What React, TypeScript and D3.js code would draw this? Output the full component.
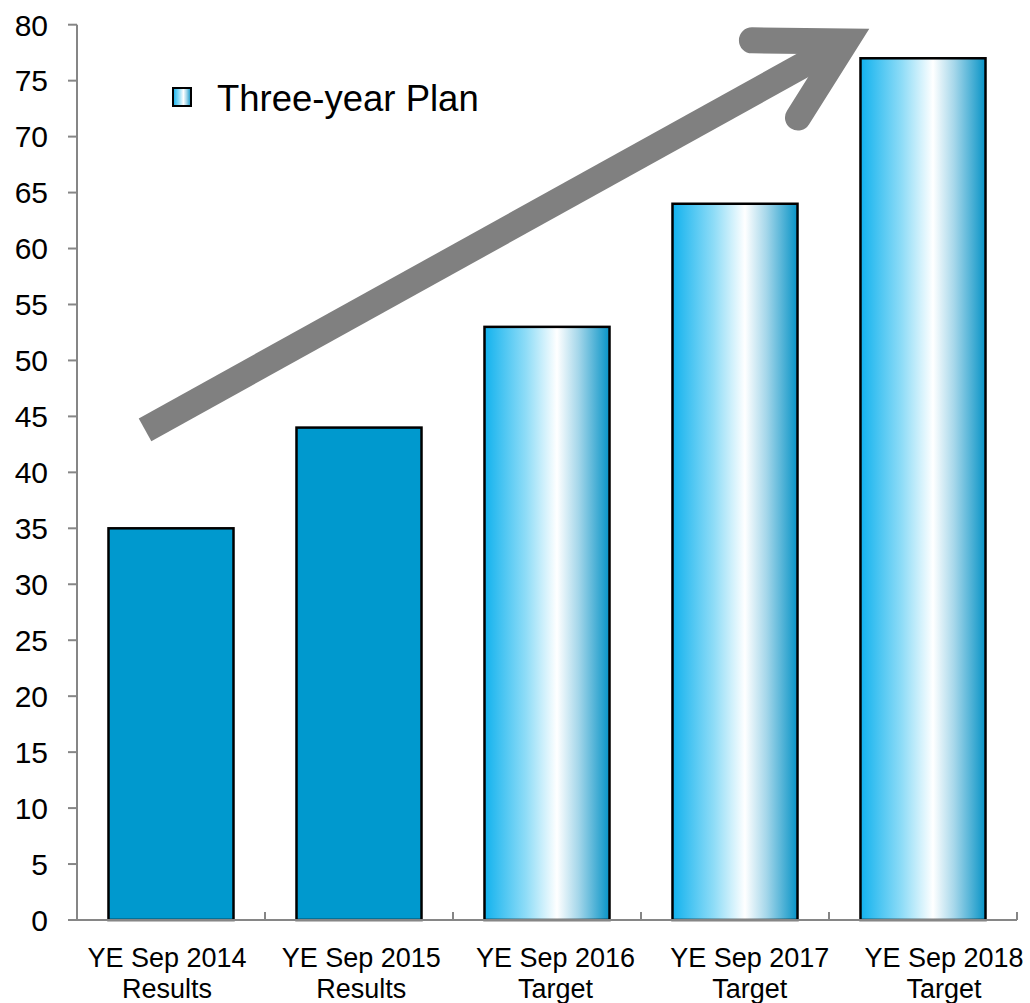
import React from "react";
import * as d3 from "d3";

const categories = ["YE Sep 2014|Results", "YE Sep 2015|Results", "YE Sep 2016|Target", "YE Sep 2017|Target", "YE Sep 2018|Target"];
const values = [35, 44, 53, 64, 77];
const kinds = ["result", "result", "target", "target", "target"];
const yTicks = d3.range(0, 81, 5);
const legendLabel = "Three-year Plan";
// arrow annotation in (category-position, value) units
const arrowShaft: [number, number][] = [[0.362, 43.8], [4.09, 78.5]];
const arrowHead: [number, number][] = [[3.59, 78.6], [4.09, 78.5], [3.835, 71.7]];

const W = 1030, H = 1003;
const left = 77, right = 1017, top = 24.7, bottom = 920;
const font = "'Liberation Sans', Arial, sans-serif";

export default function App() {
  const x = d3.scaleBand<string>().domain(categories).range([left, right]).paddingInner(0.335).paddingOuter(0.1675);
  const xPos = d3.scaleLinear().domain([0, categories.length]).range([left, right]);
  // category labels are spread slightly wider than the bars in the reference
  const xLabel = d3.scaleLinear().domain([0, categories.length - 1]).range([167, 944]);
  const y = d3.scaleLinear().domain([0, 80]).range([bottom, top]);
  const line = d3.line<[number, number]>().x(d => xPos(d[0])).y(d => y(d[1]));
  const boundaries = d3.range(0, categories.length + 1).map(i => xPos(i));
  const axisColor = "#868686";

  return (
    <svg width={W} height={H} style={{ position: "absolute", left: 0, top: 0, background: "#fff" }}>
      <defs>
        <linearGradient id="cyl" x1="0" y1="0" x2="1" y2="0">
          <stop offset="0" stopColor="#12B2EE" />
          <stop offset="0.33" stopColor="#8EDCF7" />
          <stop offset="0.58" stopColor="#FFFFFF" />
          <stop offset="0.75" stopColor="#A6D7EA" />
          <stop offset="1" stopColor="#0793C6" />
        </linearGradient>
      </defs>

      {categories.map((c, i) => (
        <rect key={c} x={x(c)} y={y(values[i])} width={x.bandwidth()} height={y(0) - y(values[i])}
          fill={kinds[i] === "result" ? "#0099CE" : "url(#cyl)"} stroke="#000" strokeWidth={2.5} />
      ))}

      {/* y axis */}
      <line x1={left} x2={left} y1={top} y2={bottom} stroke={axisColor} strokeWidth={2} />
      {yTicks.map(t => (
        <g key={t}>
          <line x1={left - 9} x2={left} y1={y(t)} y2={y(t)} stroke={axisColor} strokeWidth={2} />
          <text x={48} y={y(t)} dy="0.36em" textAnchor="end" fontFamily={font} fontSize={30} fill="#000">{t}</text>
        </g>
      ))}

      {/* x axis */}
      <line x1={left} x2={right} y1={bottom} y2={bottom} stroke={axisColor} strokeWidth={2} />
      {boundaries.slice(1).map((b, i) => (
        <line key={i} x1={b} x2={b} y1={bottom} y2={bottom - 8} stroke={axisColor} strokeWidth={2} />
      ))}
      {categories.map((c, i) => {
        const [l1, l2] = c.split("|");
        const cx = xLabel(i);
        return (
          <text key={c} x={cx} textAnchor="middle" fontFamily={font} fontSize={27} fill="#000">
            <tspan x={cx} y={967}>{l1}</tspan>
            <tspan x={cx} y={998}>{l2}</tspan>
          </text>
        );
      })}

      {/* legend */}
      <rect x={173} y={88} width={18} height={18} fill="url(#cyl)" stroke="#000" strokeWidth={2} />
      <text x={217} y={111} fontFamily={font} fontSize={36.5} fill="#000">{legendLabel}</text>

      {/* arrow */}
      <path d={line(arrowShaft) || ""} fill="none" stroke="#808080" strokeWidth={26} strokeLinecap="butt" />
      <path d={line(arrowHead) || ""} fill="none" stroke="#808080" strokeWidth={26} strokeLinecap="round" strokeLinejoin="miter" />
    </svg>
  );
}
